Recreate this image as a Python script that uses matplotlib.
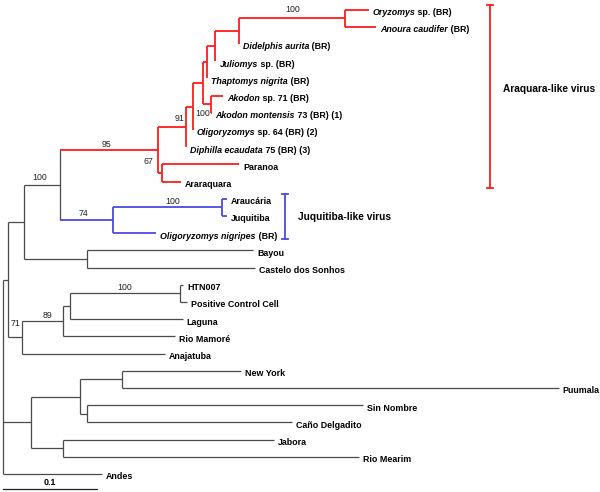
#!/usr/bin/env python3
import matplotlib
matplotlib.use('Agg')
import matplotlib.pyplot as plt

# leaves, top to bottom; label = italic part + plain part
leaf_italic = ['Oryzomys', 'Anoura caudifer', 'Didelphis aurita', 'Juliomys',
               'Thaptomys nigrita', 'Akodon', 'Akodon montensis', 'Oligoryzomys',
               'Diphilla ecaudata', '', '', '', '', 'Oligoryzomys nigripes',
               '', '', '', '', '', '', '', '', '', '', '', '', '', '']
leaf_plain = [' sp. (BR)', ' (BR)', ' (BR)', ' sp. (BR)', ' (BR)', ' sp. 71 (BR)',
              ' 73 (BR) (1)', ' sp. 64 (BR) (2)', ' 75 (BR) (3)', 'Paranoa',
              'Araraquara', 'Araucária', 'Juquitiba', ' (BR)', 'Bayou',
              'Castelo dos Sonhos', 'HTN007', 'Positive Control Cell', 'Laguna',
              'Rio Mamoré', 'Anajatuba', 'New York', 'Puumala', 'Sin Nombre',
              'Caño Delgadito', 'Jabora', 'Rio Mearim', 'Andes']
# distance from root (substitutions/site)
leaf_depth = [0.389, 0.397, 0.251, 0.226, 0.217, 0.234, 0.222, 0.202, 0.195,
              0.251, 0.189, 0.238, 0.238, 0.163, 0.266, 0.268, 0.192, 0.196,
              0.191, 0.183, 0.172, 0.253, 0.591, 0.383, 0.307, 0.288, 0.379, 0.105]

# internal nodes: children are leaf indices or node names
node_names = ['root', 'nA', 'n24', 'n60', 'n95', 'n91', 'nB', 'nC', 'nD', 'nE',
              'nF', 'nOA', 'nAk', 'n67', 'n74', 'nAJ', 'nBay', 'n71', 'n89',
              'n70', 'nHTN', 'nPU', 'nNS', 'nNY', 'nSN', 'nJ']
node_children = [['nA', 'nPU', 27], ['n24', 'n71'], ['n60', 'nBay'], ['n95', 'n74'],
                 ['n91', 'n67'], ['nB', 8], ['nC', 7], ['nD', 'nAk'], ['nE', 4],
                 ['nF', 3], ['nOA', 2], [0, 1], [5, 6], [9, 10], ['nAJ', 13],
                 [11, 12], [14, 15], ['n89', 20], ['n70', 19], ['nHTN', 18],
                 [16, 17], ['nNS', 'nJ'], ['nNY', 'nSN'], [21, 22], [23, 24], [25, 26]]
node_depth = [0.0, 0.005, 0.022, 0.061, 0.165, 0.195, 0.202, 0.213, 0.217, 0.226,
              0.251, 0.364, 0.221, 0.169, 0.117, 0.233, 0.089, 0.020, 0.064,
              0.071, 0.188, 0.030, 0.082, 0.127, 0.089, 0.064]
node_support = {'n60': 100, 'n95': 95, 'n91': 91, 'nOA': 100, 'nAk': 100, 'n67': 67,
                'n74': 74, 'nAJ': 100, 'n71': 71, 'n89': 89, 'nHTN': 100}

clade_names = ['Araquara-like virus', 'Juquitiba-like virus']
clade_nodes = ['n95', 'n74']
clade_colors = ['#ff1a1a', '#4a4ae0']
base_color = '#4a4a4a'

# nudges for support labels (pixels, relative to branch midpoint)
support_nudge = {'nOA': (1, 9), 'n95': (-3, 5), 'n91': (7, 8), 'n60': (-2, 8),
                 'n74': (-3, 7), 'nAJ': (5, 6), 'nHTN': (0, 6), 'n89': (5, 6),
                 'n71': (1, 14), 'n67': (-12, 11), 'nAk': (-4, -9)}

PX = 940.0     # pixels per unit of branch length
ROW = 17.2     # pixels per leaf row
TOP = 9.5
FONT = 'Liberation Sans'

fig = plt.figure(figsize=(6.0, 4.92), dpi=100)
ax = fig.add_axes([0, 0, 1, 1])
ax.set_xlim(-3 / PX, 597 / PX)
ax.set_ylim((492 - TOP) / ROW, -TOP / ROW)
ax.axis('off')

depth = {name: d for name, d in zip(node_names, node_depth)}
children = dict(zip(node_names, node_children))
ypos = {}
for i, d in enumerate(leaf_depth):
    depth[i] = d
    ypos[i] = i


def get_y(n):
    if n not in ypos:
        ys = [get_y(c) for c in children[n]]
        ypos[n] = (min(ys) + max(ys)) / 2
    return ypos[n]


get_y('root')

color = {}
lwidth = {}


def paint(n, col, lw):
    color[n] = col
    lwidth[n] = lw
    for c in children.get(n, []):
        paint(c, col, lw)


paint('root', base_color, 0.9)
for cn, cc in zip(clade_nodes, clade_colors):
    paint(cn, cc, 1.3)

for n in node_names:
    ys = [ypos[c] for c in children[n]]
    ax.plot([depth[n], depth[n]], [min(ys), max(ys)], color=color[n],
            lw=lwidth[n], solid_capstyle='butt')
    for c in children[n]:
        ax.plot([depth[n], depth[c]], [ypos[c], ypos[c]], color=color[c],
                lw=lwidth[c], solid_capstyle='butt')

parent = {c: n for n in node_names for c in children[n]}

# bootstrap values
for n, v in node_support.items():
    xm = (depth[parent[n]] + depth[n]) / 2
    dx, dy = support_nudge.get(n, (0, 7))
    ax.annotate(str(v), xy=(xm, ypos[n]), xytext=(dx, dy),
                textcoords='offset pixels', ha='center', va='center',
                fontsize=6.3, family=FONT, color='#222222')

# tip labels
for i in range(len(leaf_depth)):
    t1 = ax.annotate(leaf_italic[i] if leaf_italic[i] else leaf_plain[i],
                     xy=(leaf_depth[i], i), xytext=(4, -3),
                     textcoords='offset pixels', ha='left', va='center',
                     fontsize=6.4, family=FONT, fontweight='bold',
                     style='italic' if leaf_italic[i] else 'normal')
    if leaf_italic[i]:
        ax.annotate(leaf_plain[i], xy=(1, 0), xycoords=t1, ha='left', va='bottom',
                    fontsize=6.4, family=FONT, fontweight='bold')


def leaves_under(n):
    if n not in children:
        return [n]
    out = []
    for c in children[n]:
        out += leaves_under(c)
    return out


# clade brackets
bracket_x = [490, 285]
label_shift = [-7, 0]
for name, cn, col, bx, ls in zip(clade_names, clade_nodes, clade_colors,
                                  bracket_x, label_shift):
    lv = leaves_under(cn)
    y0, y1 = min(lv) - 0.27, max(lv) + 0.35
    x = (bx - 3) / PX
    cap = 3 / PX
    ax.plot([x, x], [y0, y1], color=col, lw=1.3)
    ax.plot([x - cap, x + cap], [y0, y0], color=col, lw=1.3)
    ax.plot([x - cap, x + cap], [y1, y1], color=col, lw=1.3)
    ax.annotate(name, xy=(x, (y0 + y1) / 2), xytext=(13, -ls),
                textcoords='offset pixels', ha='left', va='center',
                fontsize=7.3, family=FONT, fontweight='bold')

# scale bar
sy = (489 - TOP) / ROW
ax.plot([0, 0.1], [sy, sy], color='#222222', lw=0.9)
ax.annotate('0.1', xy=(0.05, sy), xytext=(0, 7), textcoords='offset pixels',
            ha='center', va='center', fontsize=6.4, family=FONT,
            fontweight='bold')

fig.savefig('out.png', dpi=100)
